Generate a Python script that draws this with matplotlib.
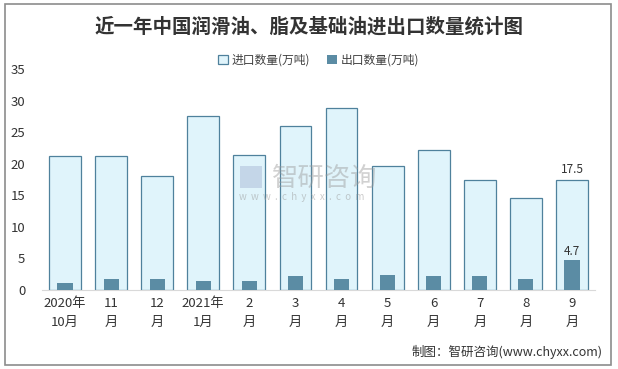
import numpy as np
import matplotlib.pyplot as plt
from matplotlib.patches import Rectangle

plt.rcParams['font.family'] = ['Noto Sans CJK SC', 'DejaVu Sans']

# data
months = ['2020年\n10月', '11\n月', '12\n月', '2021年\n1月', '2\n月', '3\n月',
          '4\n月', '5\n月', '6\n月', '7\n月', '8\n月', '9\n月']
imports = [21.3, 21.3, 18.1, 27.6, 21.4, 26.0, 28.9, 19.7, 22.2, 17.5, 14.5, 17.5]
exports = [1.1, 1.7, 1.7, 1.4, 1.4, 2.2, 1.7, 2.4, 2.2, 2.2, 1.7, 4.7]

fig = plt.figure(figsize=(6.18, 3.69), dpi=100)
ax = fig.add_axes([42 / 618, 79 / 369, 553 / 618, 221 / 369])

x = np.arange(len(months))
ax.bar(x, imports, width=0.69, color='#E0F4FB', edgecolor='#4F819C',
       linewidth=0.9, label='进口数量(万吨)', zorder=2)
ax.bar(x, exports, width=0.33, color='#5B8CA4', label='出口数量(万吨)', zorder=3)

# labels on the last month only
ax.text(x[-1], imports[-1] + 0.6, f'{imports[-1]}', ha='center', va='bottom',
        fontsize=8.5, color='#333333')
ax.text(x[-1], exports[-1] + 0.3, f'{exports[-1]}', ha='center', va='bottom',
        fontsize=8.5, color='#333333')

ax.set_xlim(-0.5, len(months) - 0.5)
ax.set_ylim(0, 35)
ax.set_yticks(range(0, 36, 5))
ax.set_xticks(x)
ax.set_xticklabels(months, fontsize=9.5, color='#333333', linespacing=1.6)
ax.tick_params(axis='y', labelsize=9.5, colors='#333333', length=0, pad=12)
ax.tick_params(axis='x', length=0, pad=5)
for s in ['top', 'right', 'left']:
    ax.spines[s].set_visible(False)
ax.spines['bottom'].set_color('#D9D9D9')

# title and legend
fig.text(0.5, 0.928, '近一年中国润滑油、脂及基础油进出口数量统计图', ha='center',
         va='center', fontsize=14, fontweight='bold', color='#333333')
ax.legend(loc='center', bbox_to_anchor=(0.5, 1.04), ncol=2, frameon=False,
          fontsize=8.5, handlelength=0.8, handleheight=0.8, columnspacing=1.5,
          handletextpad=0.3, labelcolor='#404040')

# watermark
fig.text(272 / 618, 1 - 178 / 369, '智研咨询', fontsize=19, color='#9A9A9A',
         alpha=0.45, ha='left', va='center')
fig.text(239 / 618, 1 - 197 / 369, 'w  w  w  .  c  h  y  x  x  .  c  o  m',
         fontsize=7, color='#9A9A9A', alpha=0.5, ha='left', va='center')
fig.patches.append(Rectangle((240 / 618, 1 - 188 / 369), 22 / 618, 22 / 369,
                             transform=fig.transFigure, facecolor='#A9B9D6',
                             alpha=0.5, edgecolor='none'))

fig.text(0.975, 0.045, '制图：智研咨询(www.chyxx.com)', ha='right', va='center',
         fontsize=9, color='#333333')

# outer frame
fig.patches.append(Rectangle((5 / 618, 4 / 369), 606 / 618, 361 / 369,
                             transform=fig.transFigure, fill=False,
                             edgecolor='#8C8C8C', linewidth=1.2))

fig.savefig('out.png', dpi=100)
